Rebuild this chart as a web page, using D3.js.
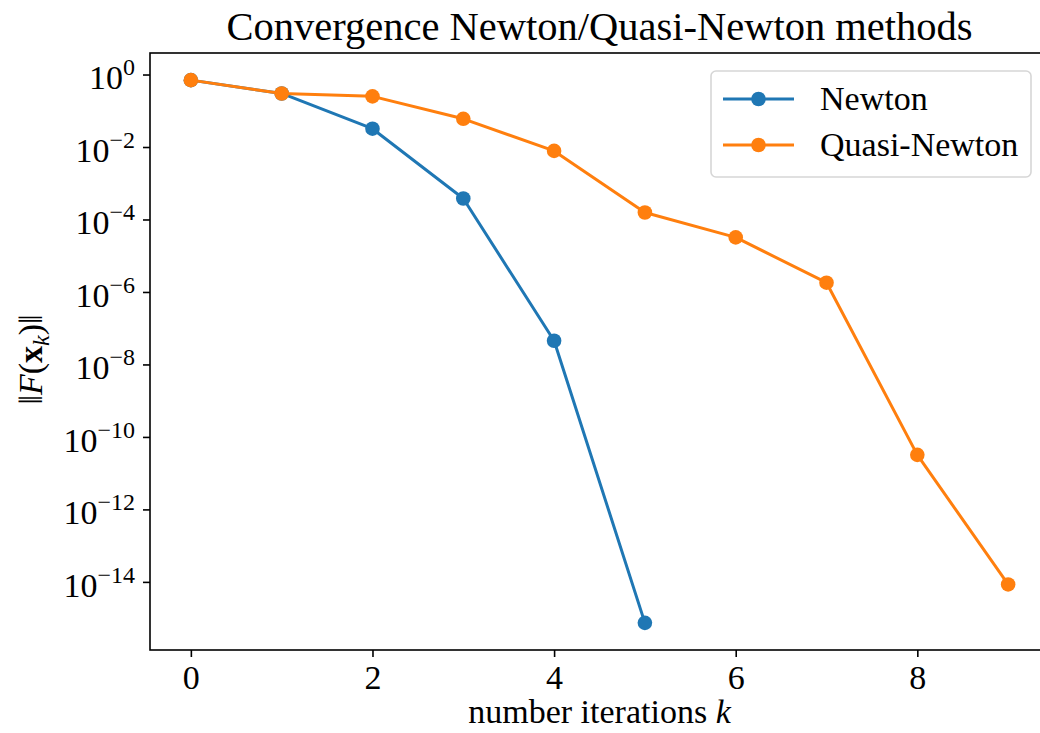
<!DOCTYPE html>
<html lang="en">
  <head>
    <meta charset="UTF-8" />
    <title>Convergence Newton/Quasi-Newton methods</title>
    <style>
      body {
        margin: 0;
        padding: 0;
        background-color: #ffffff;
      }
      svg {
        display: block;
        font-family: "Liberation Serif", "DejaVu Serif", serif;
      }
    </style>
  </head>
  <body>
    <div id="plot"></div>

    <script src="https://d3js.org/d3.v7.min.js"></script>
    <script>
      // values
      const iterations = [0, 1, 2, 3, 4, 5, 6, 7, 8, 9];
      const newton = [0.70, 0.30, 0.032, 3.8e-4, 4.5e-8, 7.4e-16];
      const quasiNewton = [0.70, 0.30, 0.25, 0.06, 0.0078, 1.56e-4, 3.2e-5, 1.8e-6, 3.2e-11, 8.5e-15];
      const xTicks = [0, 2, 4, 6, 8];
      const yExponents = [0, -2, -4, -6, -8, -10, -12, -14];
      const seriesNames = ["Newton", "Quasi-Newton"];
      const colors = ["#1f77b4", "#ff7f0e"];

      const width = 1040, height = 733;
      const mLeft = 150, mRight = 1049, mTop = 53, mBottom = 650;
      const fs = 34;

      const svg = d3.select("#plot").append("svg")
        .attr("width", width)
        .attr("height", height);

      // matplotlib style 5% margins
      const xScale = d3.scaleLinear().domain([-0.45, 9.45]).range([mLeft, mRight]);
      const logMin = Math.log10(d3.min(newton.concat(quasiNewton)));
      const logMax = Math.log10(d3.max(newton.concat(quasiNewton)));
      const pad = (logMax - logMin) * 0.05;
      const yScale = d3.scaleLog()
        .domain([Math.pow(10, logMin - pad), Math.pow(10, logMax + pad)])
        .range([mBottom, mTop]);

      // lines and markers
      const series = [newton, quasiNewton];
      const line = d3.line()
        .x((d, i) => xScale(iterations[i]))
        .y((d) => yScale(d));

      series.forEach((values, s) => {
        svg.append("path")
          .datum(values)
          .attr("d", line)
          .attr("fill", "none")
          .attr("stroke", colors[s])
          .attr("stroke-width", 3)
          .attr("stroke-linejoin", "round");
        svg.selectAll("circle.s" + s)
          .data(values)
          .enter()
          .append("circle")
          .attr("class", "s" + s)
          .attr("cx", (d, i) => xScale(iterations[i]))
          .attr("cy", (d) => yScale(d))
          .attr("r", 7.3)
          .attr("fill", colors[s]);
      });

      // frame
      svg.append("rect")
        .attr("x", mLeft)
        .attr("y", mTop)
        .attr("width", mRight - mLeft)
        .attr("height", mBottom - mTop)
        .attr("fill", "none")
        .attr("stroke", "#000")
        .attr("stroke-width", 1.6);

      // x axis
      const xAxis = svg.append("g")
        .attr("transform", `translate(0,${mBottom})`)
        .call(d3.axisBottom(xScale).tickValues(xTicks).tickSize(7).tickPadding(8));
      xAxis.select(".domain").remove();
      xAxis.selectAll(".tick line").attr("stroke-width", 1.6);
      xAxis.selectAll(".tick text")
        .attr("font-size", fs)
        .attr("font-family", "Liberation Serif")
        .attr("fill", "#000");

      // y axis
      const yAxis = svg.append("g")
        .attr("transform", `translate(${mLeft},0)`)
        .call(d3.axisLeft(yScale)
          .tickValues(yExponents.map((e) => Math.pow(10, e)))
          .tickSize(7)
          .tickPadding(8)
          .tickFormat(() => ""));
      yAxis.select(".domain").remove();
      yAxis.selectAll(".tick line").attr("stroke-width", 1.6);
      yAxis.selectAll(".tick text")
        .attr("font-size", fs)
        .attr("font-family", "Liberation Serif")
        .attr("fill", "#000")
        .attr("dy", "0.42em")
        .each(function (d, i) {
          const t = d3.select(this);
          t.append("tspan").text("10");
          const e = yExponents[i];
          t.append("tspan")
            .attr("font-size", 24)
            .attr("dy", -14)
            .text(e < 0 ? "\u2212" + Math.abs(e) : String(e));
        });

      // title
      svg.append("text")
        .attr("x", (mLeft + mRight) / 2)
        .attr("y", 40)
        .attr("text-anchor", "middle")
        .attr("font-size", 40.5)
        .text("Convergence Newton/Quasi-Newton methods");

      // x label
      const xl = svg.append("text")
        .attr("x", (mLeft + mRight) / 2)
        .attr("y", 723)
        .attr("text-anchor", "middle")
        .attr("font-size", fs);
      xl.append("tspan").text("number iterations ");
      xl.append("tspan").attr("font-style", "italic").text("k");

      // y label
      const yl = svg.append("text")
        .attr("transform", `translate(42,${(mTop + mBottom) / 2 + 8}) rotate(-90)`)
        .attr("text-anchor", "middle")
        .attr("font-size", fs);
      yl.append("tspan").text("\u2016");
      yl.append("tspan").attr("font-style", "italic").text("F");
      yl.append("tspan").text("(");
      yl.append("tspan").attr("font-weight", "bold").text("x");
      yl.append("tspan").attr("font-style", "italic").attr("font-size", 24).attr("dy", 7).text("k");
      yl.append("tspan").attr("dy", -7).text(")\u2016");

      // legend
      const legend = svg.append("g");
      legend.append("rect")
        .attr("x", 711)
        .attr("y", 71)
        .attr("width", 320)
        .attr("height", 106)
        .attr("rx", 5)
        .attr("fill", "#fff")
        .attr("fill-opacity", 0.8)
        .attr("stroke", "#d6d6d6")
        .attr("stroke-width", 1.6);
      seriesNames.forEach((name, i) => {
        const y = 99 + i * 46;
        legend.append("line")
          .attr("x1", 723).attr("x2", 794)
          .attr("y1", y).attr("y2", y)
          .attr("stroke", colors[i])
          .attr("stroke-width", 3);
        legend.append("circle")
          .attr("cx", 758.5).attr("cy", y).attr("r", 7.3)
          .attr("fill", colors[i]);
        legend.append("text")
          .attr("x", 820)
          .attr("y", y + 11)
          .attr("font-size", fs)
          .text(name);
      });
    </script>
  </body>
</html>
